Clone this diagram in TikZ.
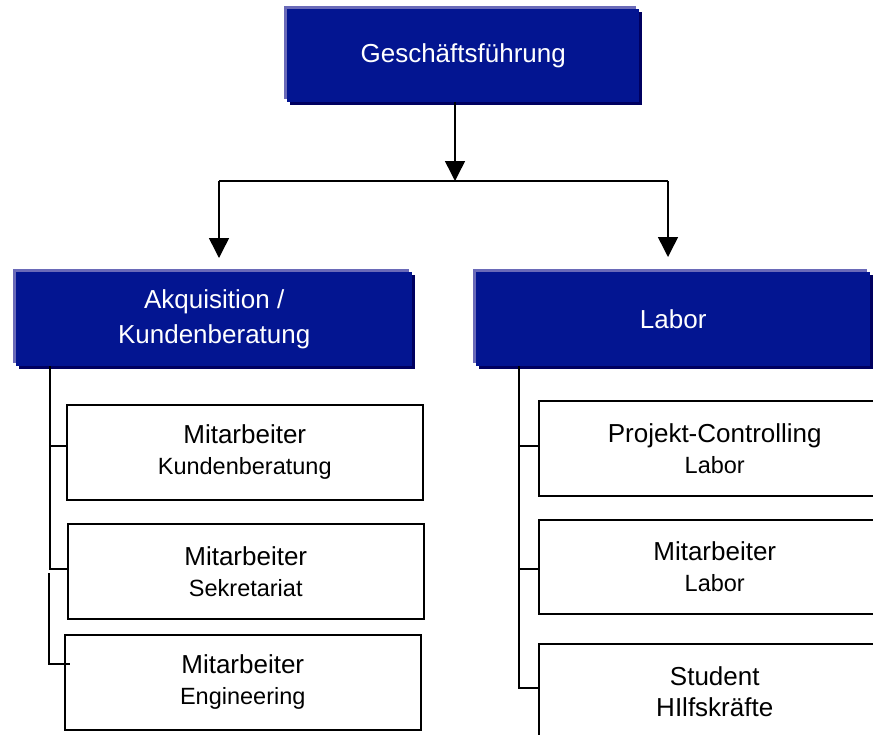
\documentclass[tikz,border=0pt]{standalone}
\usepackage{fontspec}
\setmainfont{Liberation Sans}
\usetikzlibrary{arrows.meta,shadows}
\definecolor{navy}{RGB}{3,21,145}
\definecolor{hilite}{RGB}{106,106,184}
\definecolor{shade}{RGB}{0,0,96}
\newcommand\mysecond[1]{{\fontsize{23.5}{31}\selectfont #1}}
\begin{document}
\begin{tikzpicture}[x=1pt,y=-1pt,
  hdr/.style={fill=navy, text=white, inner sep=0pt, align=center, anchor=north west,
    font=\fontsize{26}{35}\selectfont,
    general shadow={fill=hilite, shadow xshift=-3pt, shadow yshift=3pt},
    general shadow={fill=shade, shadow xshift=3pt, shadow yshift=-3pt}},
  sub/.style={draw=black, line width=1.5pt, fill=white, inner sep=0pt, align=center,
    anchor=north west, minimum width=356pt, minimum height=95pt,
    font=\fontsize{26}{31}\selectfont},
  rsub/.style={sub, minimum width=352pt},
  conn/.style={line width=1.5pt},
  arr/.style={line width=1.5pt, -{Triangle[width=20pt,length=20pt]}}]
\useasboundingbox (0,0) rectangle (873,734);
\clip (0,0) rectangle (873,734);

% headers
\node[hdr, minimum width=352pt, minimum height=93pt] (top) at (287,9) {Geschäftsführung};
\node[hdr, minimum width=396pt, minimum height=94pt] (akq) at (16,272) {Akquisition /\\Kundenberatung};
\node[hdr, minimum width=394pt, minimum height=94pt] (lab) at (476,272) {Labor};

% left column
\node[sub] (b1) at (66,404) {Mitarbeiter\\\mysecond{Kundenberatung}};
\node[sub] (b2) at (67,523) {Mitarbeiter\\\mysecond{Sekretariat}};
\node[sub] (b3) at (64,634) {Mitarbeiter\\\mysecond{Engineering}};

% right column
\node[rsub] (r1) at (538,400) {Projekt-Controlling\\\mysecond{Labor}};
\node[rsub, minimum height=94pt] (r2) at (538,519) {Mitarbeiter\\\mysecond{Labor}};
\node[rsub] (r3) at (538,643) {Student\\HIlfskräfte};

% top connectors
\coordinate (hub) at (455,181);
\coordinate (hubL) at (219,181);
\coordinate (hubR) at (668,181);
\draw[arr] (top.south -| hub) -- (hub);
\draw[conn] (hubL) -- (hubR);
\draw[arr, shorten >=14pt] (hubL) -- (hubL |- akq.north);
\draw[arr, shorten >=15pt] (hubR) -- (hubR |- lab.north);

% left tree
\coordinate (lx) at (50,0);
\coordinate (lb1) at (50,446);
\coordinate (lb2) at (50,569);
\coordinate (lb3s) at (49,573);
\coordinate (lb3) at (49,664);
\draw[conn] (akq.south -| lx) -- (lb2) -- (lb2 -| b2.west);
\draw[conn] (lb1) -- (lb1 -| b1.west);
\draw[conn] (lb3s) -- (lb3) -- ++(21,0);

% right tree
\coordinate (rx) at (519,0);
\coordinate (rb1) at (519,446);
\coordinate (rb2) at (519,569);
\coordinate (rb3) at (519,688);
\draw[conn] (lab.south -| rx) -- (rb3) -- (rb3 -| r3.west);
\draw[conn] (rb1) -- (rb1 -| r1.west);
\draw[conn] (rb2) -- (rb2 -| r2.west);
\end{tikzpicture}
\end{document}
